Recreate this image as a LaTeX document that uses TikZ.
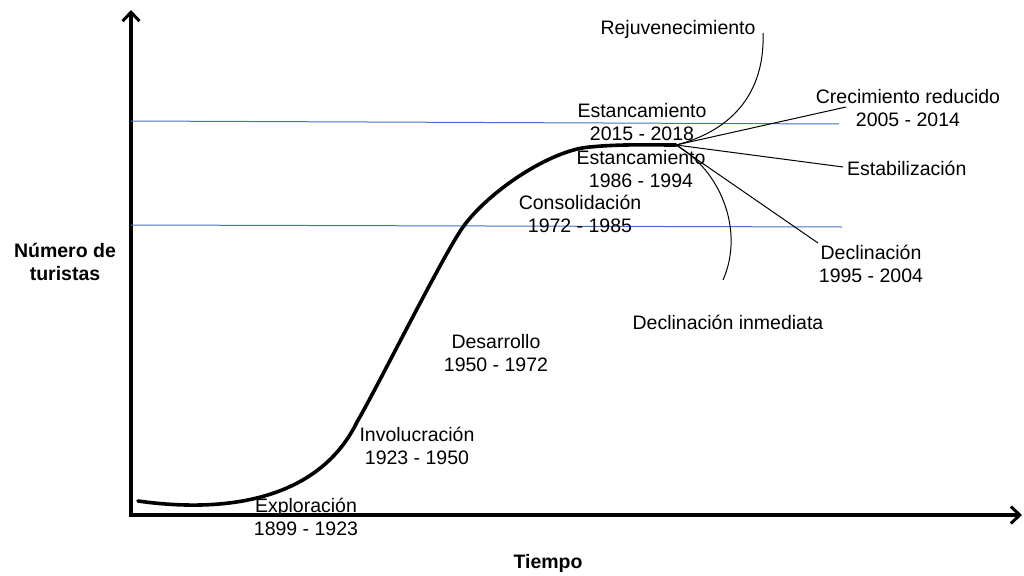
\documentclass[tikz,border=0pt]{standalone}
\usepackage{fontspec}
\setmainfont{Liberation Sans}
\usetikzlibrary{arrows.meta}
\definecolor{refblue}{RGB}{68,114,196}
\tikzset{
  lbl/.style={inner sep=0pt, align=center, font=\fontsize{19.5}{22.5}\selectfont},
  boldlbl/.style={lbl, font=\fontsize{19.5}{22.5}\selectfont\bfseries},
  axis/.style={line width=3.6pt, -{Straight Barb[length=9pt,width=17pt,line width=3pt]}},
  maincurve/.style={line width=3.6pt, line cap=round},
  thin/.style={line width=1pt},
  level/.style={refblue, line width=1pt}
}
\begin{document}
\begin{tikzpicture}[x=1pt,y=-1pt]
\useasboundingbox (0,0) rectangle (1024,575);
% axes
\coordinate (O) at (131,515);
\coordinate (Ytop) at (131,10);
\coordinate (Xend) at (1022,515);
\coordinate (O2) at (129,515);
\draw[axis] (O) -- (Ytop);
\draw[axis] (O2) -- (Xend);
% level lines
\coordinate (L1a) at (131,121);
\coordinate (L1b) at (839,124);
\coordinate (L2a) at (131,225);
\coordinate (L2b) at (842,227);
\draw[level] (L1a) -- (L1b);
\draw[level] (L2a) -- (L2b);
% main curve
\coordinate (S) at (138,501);
\coordinate (A) at (357,422);
\coordinate (B) at (463,227);
\coordinate (C) at (590,147);
\coordinate (P) at (676,145);
\draw[maincurve] (S) .. controls (230,514) and (320,498) .. (A)
  .. controls (377,388) and (443,255) .. (B)
  .. controls (488,192) and (550,150) .. (C)
  .. controls (620,144) and (650,145) .. (P);
% branches
\coordinate (Rj) at (763,33);
\coordinate (Cr) at (846,107);
\coordinate (Es) at (843,167);
\coordinate (Dc) at (818,243);
\coordinate (Di) at (723,280);
\draw[thin] (P) .. controls (735,130) and (765,90) .. (Rj);
\draw[thin] (P) -- (Cr);
\draw[thin] (P) -- (Es);
\draw[thin] (P) -- (Dc);
\draw[thin] (P) .. controls (720,170) and (745,230) .. (Di);
% labels
\node[lbl] (rej) at (678,29) {Rejuvenecimiento};
\node[lbl] (cre) at (908,108) {Crecimiento reducido\\2005 - 2014};
\node[lbl, anchor=west] (est) at (847,168) {Estabilización};
\node[lbl] (dec) at (871,264) {Declinación\\1995 - 2004};
\node[lbl] (dinm) at (728,322) {Declinación inmediata};
\node[lbl] (e1) at (642,122) {Estancamiento\\2015 - 2018};
\node[lbl] (e2) at (641,169) {Estancamiento\\1986 - 1994};
\node[lbl] (con) at (580,214) {Consolidación\\1972 - 1985};
\node[lbl] (des) at (496,353) {Desarrollo\\1950 - 1972};
\node[lbl] (inv) at (417,446) {Involucración\\1923 - 1950};
\node[lbl] (exp) at (306,517) {Exploración\\1899 - 1923};
\node[boldlbl] (ylab) at (65,262) {Número de\\turistas};
\node[boldlbl] (xlab) at (548,563) {Tiempo};
\end{tikzpicture}
\end{document}
